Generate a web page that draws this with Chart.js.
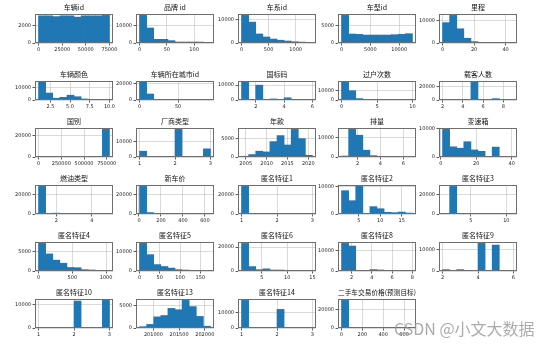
<!DOCTYPE html>
<html>
<head>
<meta charset="utf-8">
<script src="https://cdn.jsdelivr.net/npm/chart.js@4.4.1/dist/chart.umd.min.js"></script>
<style>
  body { margin: 0; background: #fff; width: 554px; height: 345px; position: relative; overflow: hidden; }
  canvas { position: absolute; }
  #mark { position: absolute; left: 394px; top: 317px; font: 16px "Noto Sans CJK SC", sans-serif; line-height: 22px; color: rgba(150,150,150,0.8); white-space: nowrap; z-index: 5; }
</style>
</head>
<body>
<div id="mark">CSDN @小文大数据</div>
<script>
// one histogram per column of the data set, 10 bins each
const titles = [
  '车辆id', '品牌 id', '车系id', '车型id', '里程',
  '车辆颜色', '车辆所在城市id', '国标码', '过户次数', '载客人数',
  '国别', '厂商类型', '年款', '排量', '变速箱',
  '燃油类型', '新车价', '匿名特征1', '匿名特征2', '匿名特征3',
  '匿名特征4', '匿名特征5', '匿名特征6', '匿名特征8', '匿名特征9',
  '匿名特征10', '匿名特征13', '匿名特征14', '二手车交易价格(预测目标)'
];

const binStart = [0, 0, 0, 0, 0,   1, 0, 1, 0, 2,   0, 1, 2004, 0.6, 1,   1, 5, 1, 1, 1,   0, 0, 1, 1, 2,   1, 200730, 1, 1];
const binEnd   = [75000, 130, 1310, 12300, 45,   10, 92, 6, 10, 9,   780000, 3, 2021, 6.8, 41,   5, 650, 3, 17.5, 11,   1050, 175, 15, 8, 6,   3, 202110, 3, 680];

const counts = [
  [3150, 3150, 3060, 3150, 3150, 3000, 3150, 3150, 3150, 3200],
  [15800, 8600, 2100, 2100, 1350, 550, 550, 550, 550, 30],
  [11900, 9000, 3900, 2600, 1700, 1200, 850, 550, 400, 250],
  [8000, 2600, 2500, 2300, 2300, 2300, 2300, 2400, 2500, 2700],
  [9000, 12200, 6300, 2100, 600, 300, 250, 0, 0, 10],

  [14300, 5500, 1400, 2100, 3800, 2600, 800, 500, 400, 150],
  [21700, 7200, 600, 150, 60, 30, 15, 8, 4, 2],
  [12200, 0, 10000, 0, 700, 0, 1500, 0, 50, 20],
  [19300, 9900, 1500, 420, 80, 30, 10, 5, 2, 1],
  [50, 60, 800, 0, 26300, 300, 0, 2000, 60, 20],

  [5, 0, 0, 0, 0, 0, 0, 0, 0, 26000],
  [3700, 0, 0, 0, 0, 17600, 0, 0, 0, 5200],
  [200, 650, 1550, 1350, 4100, 5700, 3200, 7350, 4900, 450],
  [500, 14200, 11200, 3500, 700, 60, 30, 10, 5, 2],
  [9750, 3600, 3100, 5400, 2500, 2000, 250, 3500, 0, 10],

  [29000, 0, 900, 0, 0, 20, 0, 10, 0, 5],
  [29000, 1500, 100, 30, 10, 5, 3, 2, 1, 1],
  [29000, 0, 0, 0, 0, 10, 0, 0, 0, 3],
  [8400, 4800, 9950, 120, 2650, 1900, 600, 480, 700, 350],
  [20, 29000, 300, 80, 30, 15, 8, 4, 2, 1],

  [7100, 4400, 2800, 2000, 900, 850, 350, 260, 170, 90],
  [14200, 8400, 3300, 2300, 1500, 700, 500, 60, 20, 5],
  [23100, 3700, 1100, 1800, 800, 800, 80, 30, 10, 5],
  [13500, 12200, 30, 20, 700, 500, 10, 5, 3, 2],
  [650, 0, 650, 0, 0, 13000, 0, 12200, 0, 20],

  [20, 0, 0, 0, 0, 11700, 0, 0, 0, 12000],
  [300, 800, 2500, 2800, 4400, 4100, 6200, 4800, 2600, 400],
  [17500, 0, 0, 0, 0, 11800, 0, 0, 0, 50],
  [29500, 700, 60, 20, 10, 5, 3, 2, 1, 1]
];

const xTickLabels = [
  ['0', '25000', '50000', '75000'], ['0', '50', '100'], ['0', '500', '1000'], ['0', '5000', '10000'], ['0', '20', '40'],
  ['2.5', '5.0', '7.5', '10.0'], ['0', '50'], ['2', '4', '6'], ['0', '5', '10'], ['2', '4', '6', '8'],
  ['0', '250000', '500000', '750000'], ['1', '2', '3'], ['2005', '2010', '2015', '2020'], ['2', '4', '6'], ['0', '20', '40'],
  ['2', '4'], ['0', '200', '400', '600'], ['1', '2', '3'], ['5', '10', '15'], ['5', '10'],
  ['0', '500', '1000'], ['0', '50', '100', '150'], ['5', '10', '15'], ['2', '4', '6', '8'], ['2', '4', '6'],
  ['1', '2', '3'], ['201000', '201500', '202000'], ['1', '2', '3'], ['0', '200', '400', '600']
];

const yTickLabels = [
  ['0', '2000'], ['0', '10000'], ['0', '10000'], ['0', '5000'], ['0', '10000'],
  ['0', '10000'], ['0', '20000'], ['0', '10000'], ['0', '10000'], ['0', '20000'],
  ['0', '20000'], ['0', '10000'], ['0', '5000'], ['0', '10000'], ['0', '10000'],
  ['0', '20000'], ['0', '20000'], ['0', '20000'], ['0', '10000'], ['0', '20000'],
  ['0', '5000'], ['0', '10000'], ['0', '20000'], ['0', '10000'], ['0', '10000'],
  ['0', '10000'], ['0', '5000'], ['0', '10000'], ['0', '20000']
];

// grid of axes boxes on the page (second row is squashed in the source image)
const colLeft = [35, 136, 238, 338, 439];
const rowTop = [14, 81, 128, 185, 242, 299];
const rowH = [29, 19, 29, 29, 29, 29];
const plotW = 78;
const yAxisW = 30, titleH = 12, xAxisH = 12, padRight = 16;

const frame = {
  id: 'frame',
  afterDraw(chart) {
    const a = chart.chartArea, ctx = chart.ctx;
    ctx.save();
    ctx.strokeStyle = '#6e6e6e';
    ctx.lineWidth = 1;
    ctx.strokeRect(Math.round(a.left) + 0.5, Math.round(a.top) + 0.5,
      Math.round(a.right - a.left) - 1, Math.round(a.bottom - a.top) - 1);
    ctx.restore();
  }
};

function tickOpts(labels) {
  return {
    autoSkip: false, maxRotation: 0, minRotation: 0, padding: 1.5,
    color: '#222', font: { family: 'DejaVu Sans', size: 5 },
    callback: (v, idx) => labels[idx]
  };
}

const gridOpts = {
  color: 'rgba(176,176,176,0.6)', lineWidth: 0.8,
  drawTicks: true, tickLength: 2.5, tickColor: '#333', offset: false
};

titles.forEach((title, i) => {
  const row = Math.floor(i / 5), col = i % 5;
  const lo = binStart[i], hi = binEnd[i], n = counts[i].length;
  const w = (hi - lo) / n;
  const pts = counts[i].map((c, k) => ({ x: lo + (k + 0.5) * w, y: c }));
  const span = hi - lo;
  const yMax = Math.max(...counts[i]) * 1.05;

  const cv = document.createElement('canvas');
  cv.width = yAxisW + plotW + padRight;
  cv.height = titleH + rowH[row] + xAxisH;
  cv.style.left = (colLeft[col] - yAxisW) + 'px';
  cv.style.top = (rowTop[row] - titleH) + 'px';
  document.body.appendChild(cv);

  new Chart(cv, {
    type: 'bar',
    data: {
      datasets: [{
        data: pts,
        backgroundColor: '#1f77b4',
        borderWidth: 0,
        barPercentage: 1,
        categoryPercentage: 1
      }]
    },
    options: {
      responsive: false,
      animation: false,
      events: [],
      layout: { padding: { left: 0, right: padRight, top: 0, bottom: 0 } },
      plugins: {
        legend: { display: false },
        tooltip: { enabled: false },
        title: {
          display: true, text: title, fullSize: false, color: '#111',
          font: { family: 'Noto Sans CJK SC', size: 7, weight: 'normal', lineHeight: 1.2 },
          padding: { top: 1, bottom: 2.6 }
        }
      },
      scales: {
        x: {
          type: 'linear', min: lo - 0.05 * span, max: hi + 0.05 * span,
          offset: false, z: 1,
          border: { display: false },
          grid: gridOpts,
          ticks: tickOpts(xTickLabels[i]),
          afterBuildTicks: s => { s.ticks = xTickLabels[i].map(t => ({ value: parseFloat(t) })); },
          afterFit: s => { s.height = xAxisH; }
        },
        y: {
          min: 0, max: yMax, z: 1,
          border: { display: false },
          grid: gridOpts,
          ticks: tickOpts(yTickLabels[i]),
          afterBuildTicks: s => { s.ticks = yTickLabels[i].map(t => ({ value: parseFloat(t) })); },
          afterFit: s => { s.width = yAxisW; }
        }
      }
    },
    plugins: [frame]
  });
});
</script>
</body>
</html>
